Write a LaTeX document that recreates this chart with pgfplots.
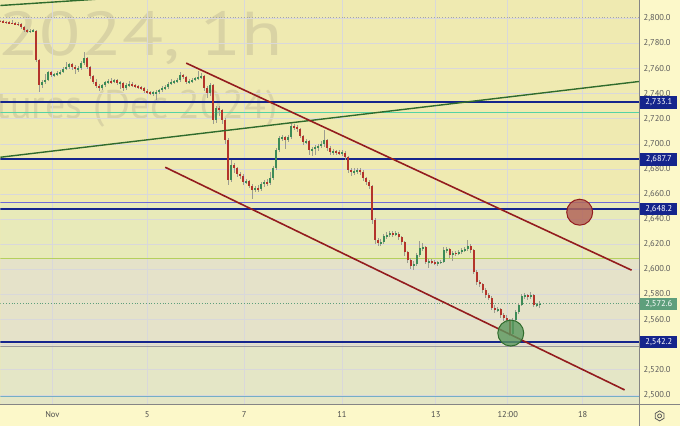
\documentclass[border=0pt]{standalone}
\usepackage{pgfplots}
\pgfplotsset{compat=1.18}
\usepackage{pgfplotstable}
\usepackage{fontspec}
\setmainfont{PT Sans}
\definecolor{bgtop}{HTML}{EFEAB1}
\definecolor{bgzone1}{HTML}{E8EAB9}
\definecolor{bgzone2}{HTML}{E5E2C9}
\definecolor{bgzone3}{HTML}{E4E6C6}
\definecolor{scalebg}{HTML}{FCF8C9}
\definecolor{gridc}{HTML}{D9D8DA}
\definecolor{labc}{HTML}{5A5A5A}
\definecolor{navy}{HTML}{15258C}
\definecolor{violet}{HTML}{6E6AD8}
\definecolor{teal}{HTML}{55D3A4}
\definecolor{lime}{HTML}{B5D05C}
\definecolor{skyl}{HTML}{74AFC6}
\definecolor{chanred}{HTML}{931C1E}
\definecolor{chgreen}{HTML}{2F6B2C}
\definecolor{upc}{HTML}{3D8B57}
\definecolor{dnc}{HTML}{B3342B}
\definecolor{wickc}{HTML}{9C9C90}
\definecolor{wm}{HTML}{D9D3A4}
\definecolor{pricegreen}{HTML}{5E9F7C}
\definecolor{sepc}{HTML}{858585}
\definecolor{circred}{HTML}{B2665A}
\definecolor{circgreen}{HTML}{5B985E}

\pgfplotstableread{
x o h l c
0 2798.0 2799.0 2796.9 2797.6
3 2797.6 2798.8 2796.5 2797.2
6 2797.2 2798.0 2795.9 2796.8
9 2796.8 2797.9 2795.6 2796.4
12 2796.4 2798.5 2795.2 2796.0
15 2796.0 2797.1 2794.6 2795.8
18 2795.8 2796.9 2794.3 2795.2
21 2795.2 2796.0 2791.7 2792.8
24 2792.8 2793.6 2789.5 2790.8
27 2790.8 2791.9 2788.4 2789.6
30 2789.6 2791.2 2788.6 2789.9
33 2789.9 2791.5 2788.9 2790.0
36 2790.0 2791.0 2765.0 2766.6
39 2766.6 2768.0 2741.4 2746.7
42 2746.7 2751.0 2744.8 2749.3
45 2749.3 2755.5 2748.0 2750.7
48 2750.7 2758.5 2749.8 2757.0
51 2757.0 2758.0 2753.2 2754.6
54 2754.6 2756.8 2753.0 2755.2
57 2755.2 2757.9 2754.1 2756.2
60 2756.2 2759.0 2755.0 2757.3
63 2757.3 2761.5 2756.4 2760.0
66 2760.0 2765.0 2759.0 2761.0
69 2761.0 2764.8 2760.1 2763.4
72 2763.4 2764.5 2759.0 2761.0
75 2761.0 2762.5 2756.0 2759.4
78 2759.4 2761.8 2757.5 2760.2
81 2760.2 2766.0 2759.0 2764.2
84 2764.2 2773.0 2763.0 2768.2
87 2768.2 2769.5 2759.5 2761.0
90 2761.0 2762.0 2752.0 2753.8
93 2753.8 2755.0 2747.5 2749.1
96 2749.1 2752.0 2744.5 2745.9
99 2745.9 2747.5 2742.0 2744.3
102 2744.3 2748.0 2743.0 2746.7
105 2746.7 2750.5 2745.5 2749.1
108 2749.1 2751.5 2747.8 2749.9
111 2749.9 2752.8 2748.0 2749.3
114 2749.3 2752.0 2748.3 2750.7
117 2750.7 2752.0 2747.0 2748.3
120 2748.3 2750.0 2743.5 2748.8
123 2748.8 2749.5 2742.5 2744.3
126 2744.3 2748.2 2743.0 2746.7
129 2746.7 2750.5 2745.3 2747.5
132 2747.5 2749.0 2745.0 2746.7
135 2746.7 2748.0 2744.5 2745.9
138 2745.9 2747.3 2743.9 2745.1
141 2745.1 2746.5 2742.8 2744.3
144 2744.3 2745.5 2740.5 2741.9
147 2741.9 2743.5 2739.8 2741.1
150 2741.1 2742.5 2738.8 2740.3
153 2740.3 2742.0 2738.5 2740.8
156 2740.8 2743.0 2734.8 2741.1
159 2741.1 2744.0 2739.8 2742.7
162 2742.7 2746.5 2741.5 2744.3
165 2744.3 2747.0 2743.0 2745.3
168 2745.3 2749.5 2744.0 2748.0
171 2748.0 2751.5 2746.8 2749.1
174 2749.1 2751.0 2747.5 2749.9
177 2749.9 2752.5 2748.5 2750.7
180 2750.7 2757.5 2749.5 2754.6
183 2754.6 2756.0 2751.5 2753.0
186 2753.0 2754.0 2747.5 2749.1
189 2749.1 2752.0 2748.0 2749.9
192 2749.9 2752.3 2748.5 2750.7
195 2750.7 2753.5 2749.8 2752.3
198 2752.3 2758.0 2751.0 2753.0
201 2753.0 2756.5 2751.5 2753.8
204 2753.8 2755.0 2742.5 2744.3
207 2744.3 2746.0 2736.5 2740.3
210 2740.3 2748.5 2738.5 2746.7
213 2746.7 2747.5 2715.5 2718.8
216 2718.8 2730.5 2716.5 2728.4
219 2728.4 2730.0 2722.5 2726.8
222 2726.8 2728.0 2716.0 2718.8
225 2718.8 2720.5 2700.0 2702.9
228 2702.9 2704.5 2667.0 2671.1
231 2671.1 2687.5 2669.5 2683.0
234 2683.0 2684.5 2676.5 2680.7
237 2680.7 2682.0 2674.0 2675.9
240 2675.9 2677.5 2672.0 2674.3
243 2674.3 2676.0 2667.5 2669.5
246 2669.5 2672.0 2668.0 2670.2
249 2670.2 2671.5 2664.5 2666.3
252 2666.3 2668.0 2656.5 2663.2
255 2663.2 2666.5 2661.5 2664.7
258 2664.7 2667.0 2662.0 2664.0
261 2664.0 2669.5 2662.5 2667.9
264 2667.9 2671.0 2666.0 2669.5
267 2669.5 2672.0 2666.5 2668.8
270 2668.8 2678.0 2667.5 2672.7
273 2672.7 2682.5 2671.0 2680.7
276 2680.7 2696.5 2679.0 2695.0
279 2695.0 2706.0 2693.5 2704.5
282 2704.5 2707.0 2702.0 2705.3
285 2705.3 2706.5 2696.0 2702.9
288 2702.9 2707.5 2701.5 2705.3
291 2705.3 2716.5 2704.0 2714.1
294 2714.1 2716.0 2711.0 2713.4
297 2713.4 2715.0 2709.5 2711.7
300 2711.7 2713.0 2704.5 2706.1
303 2706.1 2707.5 2699.5 2701.3
306 2701.3 2704.0 2700.0 2702.0
309 2702.0 2703.0 2691.0 2695.0
312 2695.0 2697.5 2690.5 2695.8
315 2695.8 2699.0 2691.5 2697.4
318 2697.4 2700.0 2694.5 2698.2
321 2698.2 2702.0 2696.5 2699.7
324 2699.7 2711.0 2697.5 2702.9
327 2702.9 2704.0 2694.0 2696.6
330 2696.6 2698.0 2691.0 2693.4
333 2693.4 2696.0 2691.5 2694.0
336 2694.0 2695.5 2691.5 2693.4
339 2693.4 2695.0 2690.8 2692.6
342 2692.6 2694.8 2690.5 2693.0
345 2693.0 2694.0 2687.5 2689.4
348 2689.4 2690.5 2677.0 2679.1
351 2679.1 2680.5 2674.5 2677.5
354 2677.5 2681.0 2675.5 2678.3
357 2678.3 2681.0 2676.0 2679.1
360 2679.1 2680.5 2675.0 2677.5
363 2677.5 2679.0 2670.5 2672.7
366 2672.7 2674.0 2667.0 2669.5
369 2669.5 2671.0 2664.0 2666.3
372 2666.3 2667.5 2636.5 2639.3
375 2639.3 2641.0 2620.5 2623.4
378 2623.4 2625.0 2618.5 2621.0
381 2621.0 2624.0 2619.0 2621.8
384 2621.8 2628.0 2620.5 2626.6
387 2626.6 2629.5 2624.5 2627.4
390 2627.4 2631.0 2625.5 2629.0
393 2629.0 2630.5 2626.0 2628.2
396 2628.2 2630.5 2626.5 2628.6
399 2628.6 2630.0 2623.5 2625.8
402 2625.8 2627.0 2619.5 2621.8
405 2621.8 2623.0 2611.0 2613.8
408 2613.8 2615.0 2605.0 2607.5
411 2607.5 2609.0 2600.5 2602.7
414 2602.7 2606.5 2599.5 2604.3
417 2604.3 2613.0 2603.0 2611.4
420 2611.4 2623.0 2610.0 2617.0
423 2617.0 2621.0 2614.5 2617.6
426 2617.6 2618.5 2604.0 2605.9
429 2605.9 2608.0 2601.5 2606.4
432 2606.4 2608.0 2604.0 2605.9
435 2605.9 2607.5 2603.5 2605.1
438 2605.1 2607.0 2603.0 2605.6
441 2605.6 2607.5 2604.0 2605.9
444 2605.9 2617.5 2605.0 2615.4
447 2615.4 2618.0 2613.5 2616.2
450 2616.2 2617.0 2609.5 2611.4
453 2611.4 2615.0 2607.0 2613.0
456 2613.0 2614.5 2611.0 2612.6
459 2612.6 2615.5 2611.5 2613.8
462 2613.8 2617.0 2612.5 2615.4
465 2615.4 2618.0 2614.0 2616.2
468 2616.2 2623.5 2615.0 2618.6
471 2618.6 2620.5 2613.5 2615.4
474 2615.4 2616.5 2596.0 2597.9
477 2597.9 2599.5 2587.5 2589.9
480 2589.9 2591.5 2586.0 2588.4
483 2588.4 2589.5 2581.5 2583.6
486 2583.6 2585.0 2577.5 2579.6
489 2579.6 2581.0 2575.5 2577.2
492 2577.2 2578.5 2567.5 2569.3
495 2569.3 2571.5 2565.5 2567.7
498 2567.7 2570.0 2566.0 2568.2
501 2568.2 2569.5 2561.5 2563.7
504 2563.7 2565.0 2559.0 2561.3
507 2561.3 2563.5 2557.0 2559.7
510 2559.7 2560.5 2547.0 2548.6
513 2548.6 2561.0 2547.8 2559.7
516 2559.7 2567.5 2558.0 2566.1
519 2566.1 2573.0 2564.5 2571.7
522 2571.7 2580.5 2570.5 2578.8
525 2578.8 2581.5 2576.5 2579.4
528 2579.4 2580.5 2575.5 2578.0
531 2578.0 2582.0 2576.5 2579.6
534 2579.6 2580.5 2570.0 2571.7
537 2571.7 2573.5 2570.0 2572.2
540 2572.2 2575.0 2569.5 2572.6
}\candles

\begin{document}
\begin{tikzpicture}[x=1pt,y=1pt]
\fill[scalebg] (0,0) rectangle (680,426);
\begin{axis}[
  at={(0pt,21pt)}, anchor=south west, scale only axis,
  width=640pt, height=405pt,
  xmin=0, xmax=640, ymin=2492.05, ymax=2814.32,
  axis background/.style={fill=bgtop},
  axis line style={draw=none},
  major tick length=0pt,
  xtick={52,147,244,342,436,508,583},
  xticklabels={Nov,5,7,11,13,12:00,18},
  ytick={2500,2520,2560,2580,2600,2620,2640,2660,2680,2700,2720,2740,2760,2780,2800},
  yticklabel pos=right,
  tick label style={font=\fontsize{8.5}{10}\selectfont, text=labc},
  yticklabel style={anchor=west, xshift=0.5pt},
  xticklabel style={yshift=-3pt, text=labc!85!black},
  /pgf/number format/.cd, fixed, fixed zerofill, precision=1, 1000 sep={,}, assume math mode=true,
]
% zones
\fill[bgzone1] (axis cs:0,2609) rectangle (axis cs:640,2653.3);
\fill[bgzone2] (axis cs:0,2538) rectangle (axis cs:640,2609);
\fill[bgzone3] (axis cs:0,2492.05) rectangle (axis cs:640,2538);
% watermark
\node[anchor=base west, font=\fontsize{62}{62}\selectfont, text=wm, xscale=1.22, inner sep=0pt] at (axis cs:-2,2770.6) {2024, 1h};
\node[anchor=base west, font=\fontsize{40}{40}\selectfont, text=wm, inner sep=0pt] at (axis cs:-4,2720.4) {tures (Dec 2024)};
% grid
\pgfplotsinvokeforeach{2500,2520,...,2800}{\draw[gridc, line width=0.8pt] (axis cs:0,#1) -- (axis cs:640,#1);}
\pgfplotsinvokeforeach{52,147,244,342,436,508,583}{\draw[gridc, line width=0.8pt] (axis cs:#1,2492.05) -- (axis cs:#1,2814.32);}

% horizontal levels
\addplot[gray!70, line width=0.8pt, dotted] coordinates {(0,2800.9) (640,2800.9)};
\addplot[teal, line width=1pt] coordinates {(0,2725.2) (640,2725.2)};
\addplot[lime, line width=1.2pt] coordinates {(0,2609) (640,2609)};
\addplot[gray!80, line width=1pt] coordinates {(0,2538.2) (640,2538.2)};
\addplot[skyl, line width=1.3pt] coordinates {(0,2498.8) (640,2498.8)};
\addplot[violet, line width=1pt] coordinates {(0,2653.3) (640,2653.3)};
\addplot[navy, line width=1.9pt] coordinates {(0,2733.1) (640,2733.1)};
\addplot[navy, line width=1.9pt] coordinates {(0,2687.7) (640,2687.7)};
\addplot[navy, line width=1.9pt] coordinates {(0,2648.2) (640,2648.2)};
\addplot[navy, line width=1.9pt] coordinates {(0,2542.2) (640,2542.2)};
\addplot[pricegreen, line width=0.8pt, dotted] coordinates {(0,2572.6) (640,2572.6)};

% candles: wicks
\addplot[color=wickc, draw=none, mark=none, error bars/.cd, y dir=both, y explicit, error mark=none,
  error bar style={line width=0.9pt, draw=wickc, solid}]
  table[x=x, y expr={(\thisrow{h}+\thisrow{l})/2}, y error expr={(\thisrow{h}-\thisrow{l})/2}] {\candles};
% bodies, rising
\addplot[color=upc, draw=none, mark=none, restrict expr to domain={\thisrow{c}-\thisrow{o}}{0:1000},
  error bars/.cd, y dir=both, y explicit, error mark=none,
  error bar style={line width=2.1pt, draw=upc, solid}]
  table[x=x, y expr={(\thisrow{o}+\thisrow{c})/2}, y error expr={max(abs(\thisrow{c}-\thisrow{o})/2,0.45)}] {\candles};
% bodies, falling
\addplot[color=dnc, draw=none, mark=none, restrict expr to domain={\thisrow{c}-\thisrow{o}}{-1000:-0.001},
  error bars/.cd, y dir=both, y explicit, error mark=none,
  error bar style={line width=2.1pt, draw=dnc, solid}]
  table[x=x, y expr={(\thisrow{o}+\thisrow{c})/2}, y error expr={max(abs(\thisrow{c}-\thisrow{o})/2,0.45)}] {\candles};

% trend lines
\addplot[chgreen, line width=1.4pt] coordinates {(0,2810.3) (160,2818.6)};
\addplot[chgreen, line width=1.4pt] coordinates {(0,2689.4) (640,2749.8)};
\addplot[chanred, line width=1.6pt] coordinates {(186,2764.4) (632,2599.4)};
\addplot[chanred, line width=1.6pt] coordinates {(165,2681.4) (625,2504.0)};

% circles
\addplot[only marks, mark=*, mark size=13pt, mark options={fill=circred, fill opacity=0.85, draw=chanred, line width=1pt}] coordinates {(580,2645.6)};
\addplot[only marks, mark=*, mark size=13pt, mark options={fill=circgreen, fill opacity=0.8, draw=chgreen, line width=1pt}] coordinates {(511,2549.3)};

\coordinate (p1) at (axis cs:640,2733.1);
\coordinate (p2) at (axis cs:640,2687.7);
\coordinate (p3) at (axis cs:640,2648.2);
\coordinate (p4) at (axis cs:640,2572.6);
\coordinate (p5) at (axis cs:640,2542.2);
\end{axis}
\draw[sepc, line width=0.9pt] (640,0) -- (640,426);
\draw[sepc, line width=0.9pt] (0,21) -- (680,21);
\tikzset{pbox/.style={anchor=west, text=white, minimum width=37pt, minimum height=12.5pt, inner sep=0pt, font=\fontsize{8.5}{10}\selectfont}}
\node[pbox, fill=navy] at ([xshift=0.6pt]p1) {2,733.1};
\node[pbox, fill=navy] at ([xshift=0.6pt]p2) {2,687.7};
\node[pbox, fill=navy] at ([xshift=0.6pt]p3) {2,648.2};
\node[pbox, fill=pricegreen] at ([xshift=0.6pt]p4) {2,572.6};
\node[pbox, fill=navy] at ([xshift=0.6pt]p5) {2,542.2};
\draw[labc, line width=0.8pt] (660,10) +(30:5) -- +(90:5) -- +(150:5) -- +(210:5) -- +(270:5) -- +(330:5) -- cycle;
\draw[labc, line width=0.8pt] (660,10) circle (2);
\end{tikzpicture}
\end{document}
